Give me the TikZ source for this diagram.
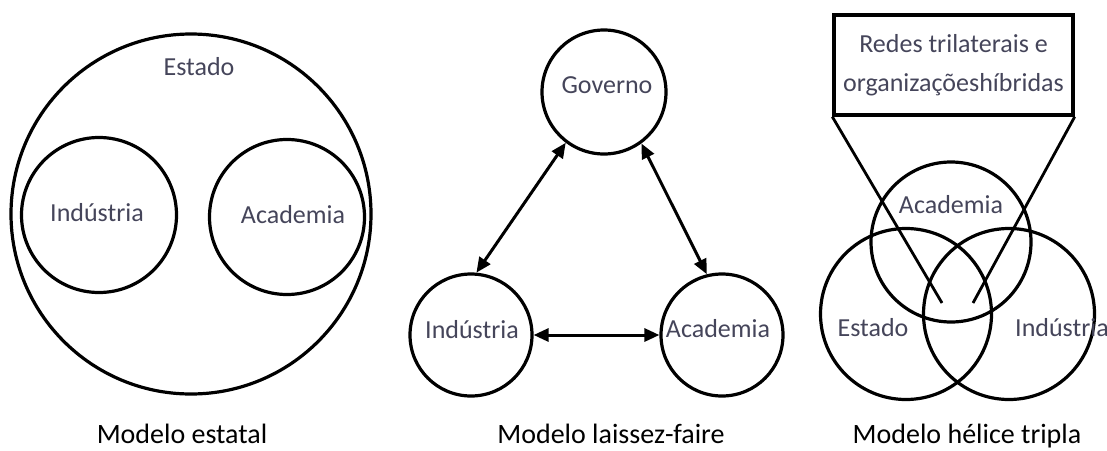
\documentclass[tikz,border=0pt]{standalone}
\usepackage{fontspec}
\setmainfont{Carlito}
\usetikzlibrary{arrows.meta}
\definecolor{labelgray}{HTML}{45455A}
\begin{document}
\begin{tikzpicture}[x=1pt,y=-1pt,
  ring/.style={draw=black,circle,line width=3.2pt,inner sep=0pt},
  lbl/.style={text=labelgray,font=\fontsize{26}{30}\selectfont,inner sep=0pt},
  captxt/.style={text=black,font=\fontsize{28}{32}\selectfont,inner sep=0pt,anchor=base},
  link/.style={line width=3pt,{Triangle[length=15pt,width=13pt]}-{Triangle[length=15pt,width=13pt]}},
  feed/.style={line width=2.8pt}]
\useasboundingbox (0,0) rectangle (1107,450);
% Panel 1
\node[ring,minimum size=360pt] (estado1) at (191,214) {};
\node[lbl] (estadoL) at (199,67) {Estado};
\node[ring,minimum size=155pt] (ind1) at (99,215) {};
\node[ring,minimum size=155pt] (acad1) at (287,217) {};
\node[lbl] (ind1L) at (97,213) {Indústria};
\node[lbl] (acad1L) at (293,215) {Academia};
% Panel 2
\node[ring,minimum size=124pt] (gov) at (604,92) {};
\node[ring,minimum size=122pt] (ind2) at (471,335) {};
\node[ring,minimum size=122pt] (acad2) at (722,335) {};
\node[lbl] (govL) at (607,85) {Governo};
\node[lbl] (ind2L) at (472,330) {Indústria};
\node[lbl] (acad2L) at (718,329) {Academia};
\draw[link] (gov.-127) -- (ind2.85);
\draw[link] (gov.-54) -- (acad2.104);
\draw[link] (ind2.0) -- (acad2.180);
% Panel 3
\node[draw=black,line width=3.4pt,minimum width=239pt,minimum height=100pt,inner sep=0pt,
      align=center,text=labelgray,font=\fontsize{26}{39}\selectfont] (box) at (953.5,65)
      {Redes trilaterais e\\organizaçõeshíbridas};
\node[ring,minimum size=160pt] (acad3) at (951,242) {};
\node[ring,minimum size=171pt] (est3) at (906,314) {};
\node[ring,minimum size=171pt] (ind3) at (1009,314) {};
\node[lbl] (acad3L) at (951,205) {Academia};
\node[lbl] (est3L) at (873,328) {Estado};
\node[lbl] (ind3L) at (1062,328) {Indústria};
\coordinate (tipL) at (942,303);
\coordinate (tipR) at (973,303);
\draw[feed] (box.south west) -- (tipL);
\draw[feed] (box.south east) -- (tipR);
% Captions
\node[captxt] (c1) at (182,443) {Modelo estatal};
\node[captxt] (c2) at (611,443) {Modelo laissez-faire};
\node[captxt] (c3) at (967,443) {Modelo hélice tripla};
\end{tikzpicture}
\end{document}
